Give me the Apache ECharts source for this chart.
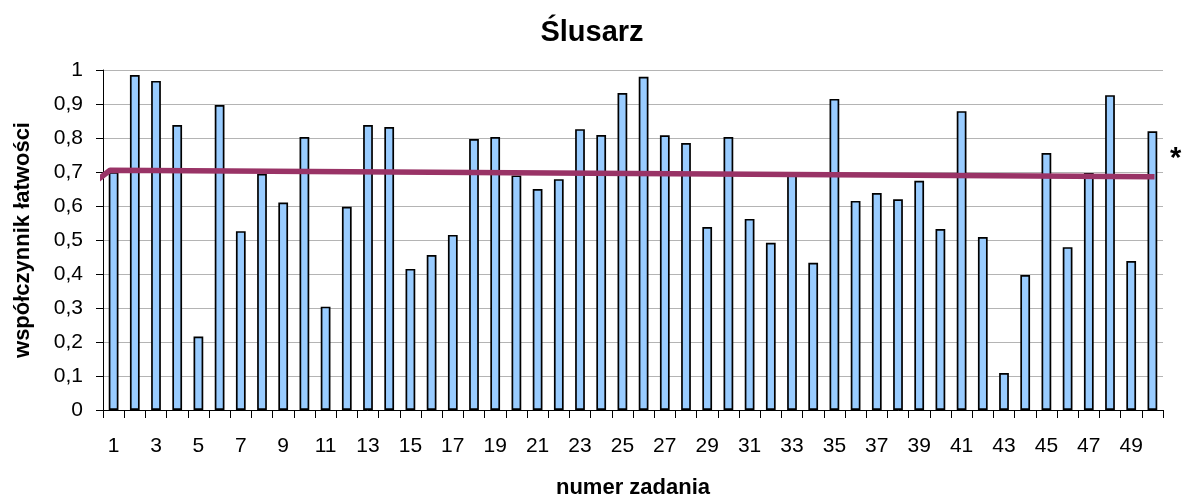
<!DOCTYPE html>
<html>
<head>
<meta charset="utf-8">
<script src="https://cdn.jsdelivr.net/npm/echarts@6/dist/echarts.min.js"></script>
<style>
html,body{margin:0;padding:0;background:#fff;}
#chart{width:1184px;height:499px;}
</style>
</head>
<body>
<div id="chart"></div>
<script>
const categories = ['1','2','3','4','5','6','7','8','9','10','11','12','13','14','15','16','17','18','19','20','21','22','23','24','25','26','27','28','29','30','31','32','33','34','35','36','37','38','39','40','41','42','43','44','45','46','47','48','49','50'];
const easiness = [0.70,0.985,0.968,0.838,0.216,0.897,0.526,0.695,0.61,0.803,
                  0.304,0.598,0.838,0.832,0.415,0.456,0.515,0.797,0.803,0.69,
                  0.65,0.679,0.826,0.809,0.932,0.98,0.808,0.785,0.538,0.803,
                  0.562,0.492,0.696,0.433,0.915,0.615,0.638,0.62,0.674,0.532,
                  0.879,0.509,0.109,0.397,0.756,0.479,0.697,0.926,0.438,0.82];
// trend line points: [position on category scale, value]
const trendPoints = [[0.12,0.671],[0.83,0.705],[50.1,0.686]];
const yTickLabels = ['0','0,1','0,2','0,3','0,4','0,5','0,6','0,7','0,8','0,9','1'];

const chart = echarts.init(document.getElementById('chart'), null, {renderer:'canvas'});
const font = 'Liberation Sans, Arial, sans-serif';
chart.setOption({
  animation:false,
  backgroundColor:'#fff',
  title:{
    text:'Ślusarz', left:587, top:13, textAlign:'center',
    textStyle:{fontFamily:font,fontSize:29,fontWeight:'bold',color:'#000'}
  },
  grid:{left:103,right:21,top:70,bottom:89,containLabel:false,outerBoundsMode:'none'},
  xAxis:[{
    type:'category', data:categories, boundaryGap:true,
    name:'numer zadania', nameLocation:'middle', nameGap:67, nameMoveOverlap:false,
    nameTextStyle:{fontFamily:font,fontSize:22,fontWeight:'bold',color:'#000'},
    axisLine:{lineStyle:{color:'#000',width:1}},
    axisTick:{show:true,interval:0,length:8,lineStyle:{color:'#000'}},
    axisLabel:{interval:1,fontFamily:font,fontSize:21,color:'#000',margin:26},
    splitLine:{show:false}
  },{
    type:'value', min:0.5, max:50.5, show:false
  }],
  yAxis:{
    type:'value', min:0, max:1, interval:0.1,
    name:'współczynnik łatwości', nameLocation:'middle', nameGap:69, nameRotate:90, nameMoveOverlap:false,
    nameTextStyle:{fontFamily:font,fontSize:22,fontWeight:'bold',color:'#000'},
    axisLine:{show:true,lineStyle:{color:'#000',width:1}},
    axisTick:{show:true,length:7,lineStyle:{color:'#000'}},
    axisLabel:{fontFamily:font,fontSize:21,color:'#000',margin:20,
      formatter:v=>yTickLabels[Math.round(v*10)]},
    splitLine:{show:true,lineStyle:{color:'#b4b4b4',width:1}}
  },
  series:[{
    type:'bar', data:easiness, barWidth:'46%', xAxisIndex:0,
    itemStyle:{color:'#99CCFF',borderColor:'#000',borderWidth:1.7},
    z:2
  },{
    type:'line', data:trendPoints, xAxisIndex:1, clip:false,
    symbol:'none', lineStyle:{color:'#993366',width:5.5}, z:3
  }],
  graphic:[{
    type:'text', left:1170, top:144,
    style:{text:'*',font:'bold 29px Liberation Sans, Arial, sans-serif',fill:'#000'}
  }]
});
</script>
</body>
</html>
